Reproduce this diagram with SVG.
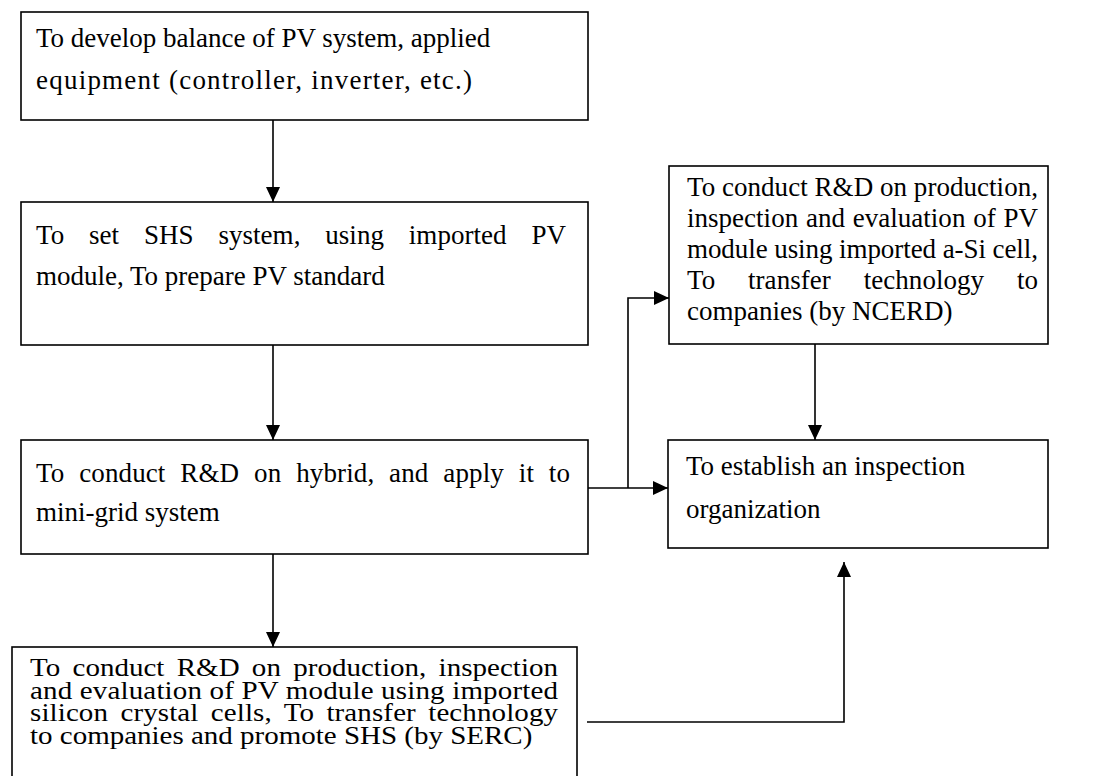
<svg xmlns="http://www.w3.org/2000/svg" width="1106" height="776" viewBox="0 0 1106 776">
  <defs>
    <style>
      .box { fill: #ffffff; stroke: #000000; stroke-width: 1.6; }
      .txt { font-family: "Liberation Serif", "Times New Roman", serif; font-size: 27px; fill: #000000; }
      .txt-s { font-family: "Liberation Serif", "Times New Roman", serif; font-size: 29px; fill: #000000; }
      .link { fill: none; stroke: #000000; stroke-width: 1.6; }
    </style>
    <marker id="ah" markerWidth="15" markerHeight="14" refX="15" refY="7" orient="auto" markerUnits="userSpaceOnUse">
      <path d="M0,0 L15,7 L0,14 z" fill="#000000"/>
    </marker>
  </defs>
  <rect width="1106" height="776" fill="#ffffff"/>

  <!-- connectors -->
  <g id="connectors">
    <path class="link" d="M273,120 V202" marker-end="url(#ah)"/>
    <path class="link" d="M273,345 V440" marker-end="url(#ah)"/>
    <path class="link" d="M273,554 V647" marker-end="url(#ah)"/>
    <path class="link" d="M588,488 H668" marker-end="url(#ah)"/>
    <path class="link" d="M628,488 V298 H669" marker-end="url(#ah)"/>
    <path class="link" d="M815,344 V440" marker-end="url(#ah)"/>
    <path class="link" d="M587,722 H844 V562" marker-end="url(#ah)"/>
  </g>

  <!-- balance of system -->
  <g id="node-bos">
    <rect class="box" x="21" y="12" width="567" height="108"/>
    <text class="txt" x="36" y="47">To develop balance of PV system, applied</text>
    <text class="txt" x="36" y="89" textLength="436" lengthAdjust="spacing">equipment (controller, inverter, etc.)</text>
  </g>

  <!-- SHS system -->
  <g id="node-shs">
    <rect class="box" x="21" y="202" width="567" height="143"/>
    <text class="txt" x="36" y="244" word-spacing="18" textLength="530" lengthAdjust="spacing">To set SHS system, using imported PV</text>
    <text class="txt" x="36" y="285">module, To prepare PV standard</text>
  </g>

  <!-- hybrid / mini-grid -->
  <g id="node-hybrid">
    <rect class="box" x="21" y="440" width="567" height="114"/>
    <text class="txt" x="36" y="482" word-spacing="8" textLength="534" lengthAdjust="spacing">To conduct R&amp;D on hybrid, and apply it to</text>
    <text class="txt" x="36" y="521">mini-grid system</text>
  </g>

  <!-- a-Si module R&D -->
  <g id="node-ncerd">
    <rect class="box" x="669" y="166" width="379" height="178"/>
    <text class="txt" x="687" y="196" textLength="351" lengthAdjust="spacing">To conduct R&amp;D on production,</text>
    <text class="txt" x="687" y="227" word-spacing="1" textLength="351" lengthAdjust="spacing">inspection and evaluation of PV</text>
    <text class="txt" x="687" y="258" textLength="351" lengthAdjust="spacing">module using imported a-Si cell,</text>
    <text class="txt" x="687" y="289" word-spacing="26" textLength="351" lengthAdjust="spacing">To transfer technology to</text>
    <text class="txt" x="687" y="320">companies (by NCERD)</text>
  </g>

  <!-- inspection organization -->
  <g id="node-inspection">
    <rect class="box" x="668" y="440" width="380" height="108"/>
    <text class="txt" x="686" y="475">To establish an inspection</text>
    <text class="txt" x="686" y="518">organization</text>
  </g>

  <!-- crystal silicon module R&D: tightly set lines -->
  <g id="node-serc">
    <rect class="box" x="12" y="647" width="565" height="150"/>
    <text class="txt-s" transform="matrix(1,0,0,0.86,0,676)" x="30" y="0" word-spacing="5" textLength="528" lengthAdjust="spacing">To conduct R&amp;D on production, inspection</text>
    <text class="txt-s" transform="matrix(1,0,0,0.86,0,699)" x="30" y="0" textLength="528" lengthAdjust="spacing">and evaluation of PV module using imported</text>
    <text class="txt-s" transform="matrix(1,0,0,0.86,0,721)" x="30" y="0" word-spacing="5" textLength="528" lengthAdjust="spacing">silicon crystal cells, To transfer technology</text>
    <text class="txt-s" transform="matrix(1,0,0,0.86,0,744)" x="30" y="0">to companies and promote SHS (by SERC)</text>
  </g>
</svg>
